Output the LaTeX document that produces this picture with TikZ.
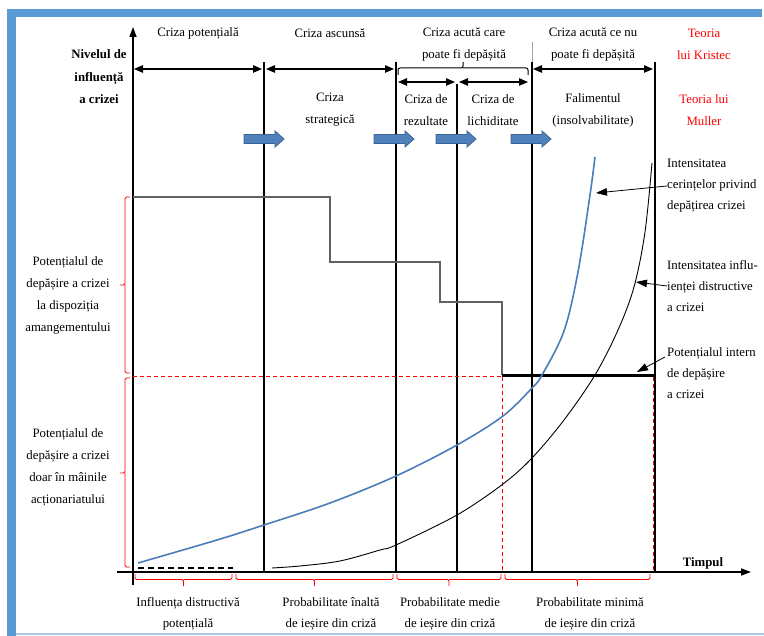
\documentclass[tikz,border=0pt]{standalone}
\usepackage{fontspec}
\setmainfont{Liberation Serif}
\usetikzlibrary{arrows.meta}
\definecolor{fblue}{HTML}{5B9BD5}
\definecolor{fblueL}{HTML}{A9C8E8}
\definecolor{ablue}{HTML}{4F81BD}
\definecolor{ablueD}{HTML}{3A6496}
\definecolor{cblue}{HTML}{4A7EBB}
\begin{document}
\begin{tikzpicture}[x=1pt,y=-1pt,
  txt/.style={font=\fontsize{12.8}{22}\selectfont, align=center, inner sep=0pt},
  txtb/.style={txt, font=\fontsize{12.8}{22.5}\selectfont\bfseries},
  rtxt/.style={font=\fontsize{12.8}{21}\selectfont, align=left, inner sep=0pt, anchor=west},
  btxt/.style={font=\fontsize{12.8}{21}\selectfont, align=center, inner sep=0pt},
  redtxt/.style={txt, text=red},
  axisline/.style={line width=1.5pt, -{Triangle[length=10pt,width=7pt]}},
  vline/.style={line width=1.2pt},
  darr/.style={line width=1.1pt, {Triangle[length=9pt,width=7.5pt]}-{Triangle[length=9pt,width=7.5pt]}},
  parr/.style={line width=0.8pt, -{Triangle[length=11pt,width=7.5pt]}},
  redbr/.style={red, line width=0.8pt, rounded corners=1.5pt},
  reddash/.style={red, line width=0.8pt, dash pattern=on 4pt off 3pt},
  stepline/.style={black!62, line width=1.5pt},
  barrow/.pic={\draw[fill=ablue, draw=ablueD, line width=0.8pt]
      (0,-4.5) -- (31,-4.5) -- (31,-8) -- (40,0) -- (31,8) -- (31,4.5) -- (0,4.5) -- cycle;}
]
\useasboundingbox (0,0) rectangle (764,636);
% frame
\fill[fblue] (7,9) rectangle (762,17);
\fill[fblue] (7,9) rectangle (16,636);
\draw[fblueL, line width=1.5pt] (16,634) -- (764,634);

% axes
\coordinate (ybot) at (133,585);
\coordinate (ytop) at (133,27);
\coordinate (xl) at (117,572);
\coordinate (xr) at (751,572);
\draw[axisline] (ybot) -- (ytop);
\draw[axisline] (xl) -- (xr);

% phase lines
\foreach \x/\t in {264/62,396/62,457/84,532/62,655/62}
  \draw[vline] (\x,\t) -- (\x,572);
\draw[black!35, line width=1pt] (532,42) -- (532,62);

% step function
\draw[stepline] (133,197) -| (330,262) -| (440,302) -| (502,375);
\draw[line width=2.6pt] (502,375.5) -- (655,375.5);
\draw[reddash] (133,376) -- (502,376);
\draw[reddash] (502,377) -- (502,572);
\draw[reddash] (653,377) -- (653,572);

% curves
\draw[cblue, line width=1.6pt] plot[smooth, tension=0.55] coordinates {
  (138,563) (217,540) (264,525) (330,503) (396,476) (457,445) (503,416)
  (532,388) (542,375) (564,331) (578,272) (590,195) (595,157)};
\draw[black, line width=0.9pt] plot[smooth, tension=0.55] coordinates {
  (272,568) (300,566) (340,561) (380,550) (396,545) (457,515) (503,484)
  (532,458) (564,420) (595,375) (618,330) (634,287) (645,232) (652,163)};
\draw[line width=1.8pt, dash pattern=on 6pt off 4pt] (138,568) -- (233,568);

% top double arrows and brace
\draw[darr] (134,69) -- (262,69);
\draw[darr] (266,69) -- (394,69);
\draw[line width=1pt, rounded corners=2pt] (398,75) |- (463,68) -- (463,62) (463,68) -| (528,75);
\draw[darr] (398,82) -- (455,82);
\draw[darr] (459,82) -- (528,82);
\draw[darr] (533,69) -- (653,69);

% block arrows
\pic at (244,139) {barrow};
\pic at (374,139) {barrow};
\pic at (436,139) {barrow};
\pic at (511,139) {barrow};

% left red brackets
\draw[redbr] (130,197) -| (125,285) -- (120,285) (125,285) |- (130,373);
\draw[redbr] (130,378) -| (125,473) -- (120,473) (125,473) |- (130,567);

% bottom red brackets
\draw[redbr] (135,574) |- (183.5,579.5) -- (183.5,586) (183.5,579.5) -| (232,574);
\draw[redbr] (236,574) |- (314.5,579.5) -- (314.5,586) (314.5,579.5) -| (393,574);
\draw[redbr] (397,574) |- (449,579.5) -- (449,586) (449,579.5) -| (501,574);
\draw[redbr] (505,574) |- (577.5,579.5) -- (577.5,586) (577.5,579.5) -| (650,574);

% texts top
\node[txt] (cpot) at (198,33) {Criza potențială};
\node[txt] (casc) at (330,33) {Criza ascunsă};
\node[txt] (cac1) at (464,44) {Criza acută care\\poate fi depășită};
\node[txt] (cac2) at (593,44) {Criza acută ce nu\\poate fi depășită};
\node[redtxt] (kris) at (704,44) {Teoria\\lui Kristec};
\node[txtb] (nivel) at (99,77) {Nivelul de\\influență\\a crizei};
\node[txt] (cstr) at (330,110) {Criza\\strategică};
\node[txt] (crez) at (426,110) {Criza de\\rezultate};
\node[txt] (clic) at (493,110) {Criza de\\lichiditate};
\node[txt] (fal) at (593,110) {Falimentul\\(insolvabilitate)};
\node[redtxt] (mull) at (704,110) {Teoria lui\\Muller};

% left texts
\node[txt] (pot1) at (68,295) {Potențialul de\\depășire a crizei\\la dispoziția\\amangementului};
\node[txt] (pot2) at (68,467) {Potențialul de\\depășire a crizei\\doar în mâinile\\acționariatului};

% right texts
\node[rtxt] (t1) at (667,186) {Intensitatea\\cerințelor privind\\depățirea crizei};
\node[rtxt] (t2) at (667,286) {Intensitatea influ-\\ienței distructive\\a crizei};
\node[rtxt] (t3) at (667,373) {Potențialul intern\\de depășire\\a crizei};
\coordinate (a1) at (596,193);
\coordinate (a2) at (636,282);
\coordinate (a3s) at (665,357);
\coordinate (a3) at (637,372);
\draw[parr] (t1.west) -- (a1);
\draw[parr] (t2.west) -- (a2);
\draw[parr] (a3s) -- (a3);

% axis label
\node[txt, font=\fontsize{12.8}{15}\selectfont\bfseries] (timp) at (703,563) {Timpul};

% bottom texts
\node[btxt] (b1) at (188,613.5) {Influența distructivă\\potențială};
\node[btxt] (b2) at (331,613.5) {Probabilitate înaltă\\de ieșire din criză};
\node[btxt] (b3) at (450,613.5) {Probabilitate medie\\de ieșire din criză};
\node[btxt] (b4) at (590,613.5) {Probabilitate minimă\\de ieșire din criză};
\end{tikzpicture}
\end{document}
